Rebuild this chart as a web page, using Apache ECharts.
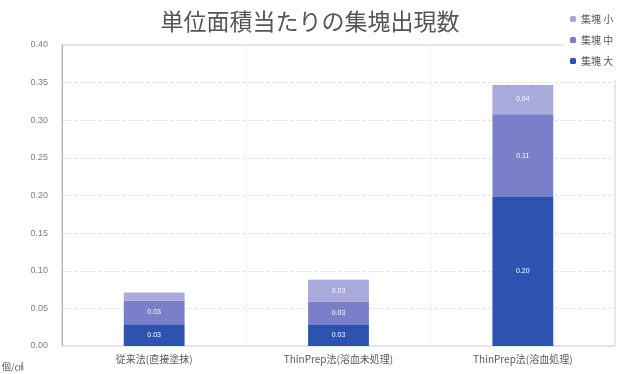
<!DOCTYPE html>
<html><head><meta charset="utf-8">
<script src="https://cdn.jsdelivr.net/npm/echarts@6/dist/echarts.min.js"></script>
<style>html,body{margin:0;padding:0;background:#fff}#c{width:629px;height:374px}</style>
</head><body><div id="c"></div>
<script>
var categories = ['従来法(直接塗抹)', 'ThinPrep法(溶血未処理)', 'ThinPrep法(溶血処理)'];
var seriesNames = ['集塊 大', '集塊 中', '集塊 小'];
var large = [0.029, 0.028, 0.198];
var medium = [0.031, 0.031, 0.110];
var small = [0.011, 0.029, 0.039];
var colors = ['#2d52b0', '#7a7fc9', '#a9a9dc'];
var values = [large, medium, small];

var chart = echarts.init(document.getElementById('c'));
var series = values.map(function (v, i) {
  return {
    name: seriesNames[i], type: 'bar', stack: 'total', data: v,
    barWidth: '33%',
    itemStyle: { color: colors[i] },
    label: {
      show: true, position: 'inside', color: '#ffffff', fontSize: 7,
      formatter: function (p) { return p.value < 0.02 ? '' : p.value.toFixed(2); }
    }
  };
});
chart.setOption({
  animation: false,
  title: {
    text: '単位面積当たりの集塊出現数', left: 305, top: 5, textAlign: 'center',
    textStyle: { fontSize: 23, fontWeight: 'normal', color: '#555555', fontFamily: 'Noto Sans CJK JP' }
  },
  legend: {
    orient: 'vertical', left: 564, top: 6, itemWidth: 6, itemHeight: 6, itemGap: 11,
    padding: [8, 20, 14, 6],
    backgroundColor: '#ffffff', z: 10,
    data: ['集塊 小', '集塊 中', '集塊 大'],
    textStyle: { fontSize: 10, color: '#595959', fontFamily: 'Noto Sans CJK JP' }
  },
  grid: { left: 62, right: 14, top: 45, bottom: 28, show: true, borderColor: '#c8c8c8', borderWidth: 1 },
  xAxis: {
    type: 'category', data: categories,
    axisLine: { show: false }, axisTick: { show: false },
    splitLine: { show: true, lineStyle: { color: '#eeeeee', type: 'dashed' } },
    axisLabel: { fontSize: 10, color: '#595959', margin: 8, fontFamily: 'Noto Sans CJK JP', interval: 0 }
  },
  yAxis: {
    type: 'value', min: 0, max: 0.40, interval: 0.05,
    axisLine: { show: true, lineStyle: { color: '#b0b0b0' } }, axisTick: { show: false },
    splitLine: { show: true, lineStyle: { color: '#e6e6e6', type: 'dashed' } },
    axisLabel: { fontSize: 9, color: '#7f7f7f', margin: 14, formatter: function (v) { return v.toFixed(2); } }
  },
  graphic: [{ type: 'text', left: 2, top: 362, style: { text: '個/㎠', fontSize: 9, fill: '#595959', fontFamily: 'Noto Sans CJK JP' } }],
  series: series
});
</script></body></html>
